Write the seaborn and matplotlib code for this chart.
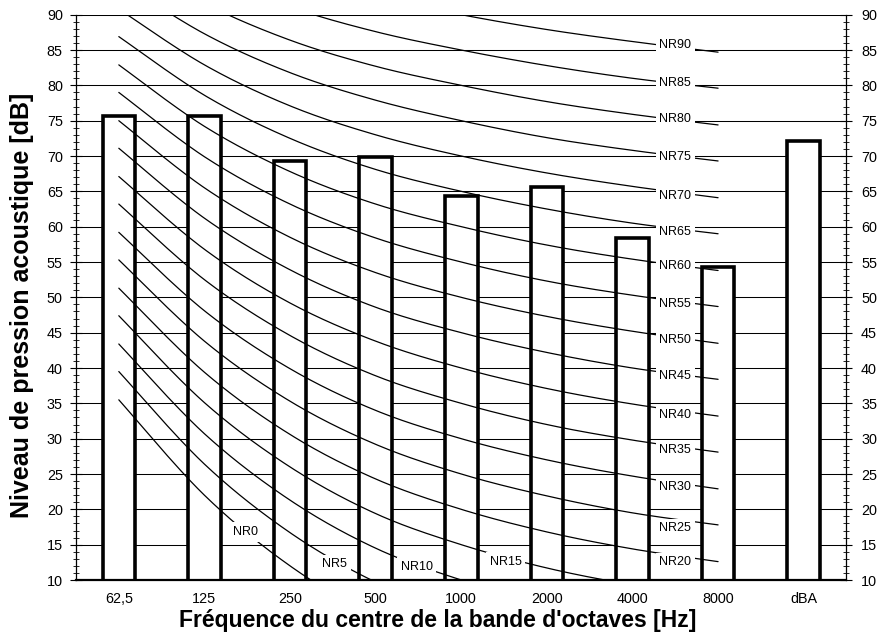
import numpy as np
import pandas as pd
import matplotlib
matplotlib.use("Agg")
import matplotlib.pyplot as plt
import seaborn as sns
from matplotlib.ticker import MultipleLocator

# ---------------- data ----------------
bands = ["62,5", "125", "250", "500", "1000", "2000", "4000", "8000", "dBA"]
levels = [75.6, 75.7, 69.3, 69.8, 64.4, 65.6, 58.4, 54.3, 72.1]

# NR curves at the octave bands 62,5 ... 8000 Hz
nr0 = [35.5, 22.0, 12.0, 4.8, 0.0, -3.5, -6.1, -8.0]
nr5 = [39.5, 26.4, 16.7, 9.7, 5.0, 1.6, -1.0, -2.9]
nr10 = [43.4, 30.7, 21.3, 14.5, 10.0, 6.6, 4.2, 2.3]
nr15 = [47.4, 35.1, 26.0, 19.4, 15.0, 11.7, 9.3, 7.5]
nr20 = [51.3, 39.4, 30.6, 24.3, 20.0, 16.8, 14.4, 12.6]
nr25 = [55.3, 43.8, 35.3, 29.2, 25.0, 21.9, 19.5, 17.8]
nr30 = [59.2, 48.1, 39.9, 34.0, 30.0, 27.0, 24.7, 22.9]
nr35 = [63.2, 52.5, 44.6, 38.9, 35.0, 32.0, 29.8, 28.1]
nr40 = [67.1, 56.8, 49.2, 43.8, 40.0, 37.1, 34.9, 33.2]
nr45 = [71.1, 61.2, 53.9, 48.6, 45.0, 42.2, 40.0, 38.4]
nr50 = [75.0, 65.5, 58.5, 53.5, 50.0, 47.3, 45.2, 43.5]
nr55 = [79.0, 69.9, 63.2, 58.4, 55.0, 52.3, 50.3, 48.7]
nr60 = [82.9, 74.2, 67.8, 63.2, 60.0, 57.4, 55.4, 53.8]
nr65 = [86.9, 78.6, 72.5, 68.1, 65.0, 62.5, 60.5, 59.0]
nr70 = [90.8, 82.9, 77.1, 73.0, 70.0, 67.6, 65.7, 64.1]
nr75 = [94.8, 87.3, 81.8, 77.9, 75.0, 72.6, 70.8, 69.3]
nr80 = [98.7, 91.6, 86.4, 82.7, 80.0, 77.7, 75.9, 74.4]
nr85 = [102.7, 96.0, 91.1, 87.6, 85.0, 82.8, 81.0, 79.6]
nr90 = [106.6, 100.3, 95.7, 92.5, 90.0, 87.9, 86.2, 84.7]

nr_names = ["NR0", "NR5", "NR10", "NR15", "NR20", "NR25", "NR30", "NR35", "NR40",
            "NR45", "NR50", "NR55", "NR60", "NR65", "NR70", "NR75", "NR80", "NR85", "NR90"]
nr_series = [nr0, nr5, nr10, nr15, nr20, nr25, nr30, nr35, nr40, nr45, nr50,
             nr55, nr60, nr65, nr70, nr75, nr80, nr85, nr90]
# label anchor positions (category index, dB)
label_x = [1.48, 2.52, 3.48, 4.52, 6.5, 6.5, 6.5, 6.5, 6.5, 6.5, 6.5, 6.5, 6.5,
           6.5, 6.5, 6.5, 6.5, 6.5, 6.5]
label_y = [16.8, 12.2, 11.9, 12.6, 12.5, 17.3, 23.2, 28.4, 33.3, 38.9, 43.9, 49.1,
           54.4, 59.3, 64.4, 69.9, 75.2, 80.3, 85.7]

yticks = list(range(10, 95, 5))

# ---------------- figure ----------------
sns.set_style("white")
plt.rcParams["font.family"] = ["Liberation Sans", "DejaVu Sans"]
plt.rcParams["text.color"] = "black"
plt.rcParams["axes.labelcolor"] = "black"

W, H = 878, 637
fig = plt.figure(figsize=(W / 100, H / 100), dpi=100)
ax = fig.add_axes([76 / W, 1 - 580 / H, (846.5 - 76) / W, (580 - 14.7) / H])

ax.set_axisbelow(True)
ax.yaxis.grid(True, color="black", linewidth=0.75, zorder=0)
ax.xaxis.grid(False)

df = pd.DataFrame({"band": bands, "level": levels})
sns.barplot(data=df, x="band", y="level", order=bands, color="white",
            saturation=1, edgecolor="black", linewidth=2.6, width=0.38,
            ax=ax, zorder=2)


def smooth(xs, ys, n=40):
    """Excel-like smoothed line through the points (Bezier, 1/6 tangents)."""
    P = np.column_stack([xs, ys]).astype(float)
    out = [P[0]]
    t = np.linspace(0, 1, n)[1:, None]
    for i in range(len(P) - 1):
        p0 = P[i - 1] if i > 0 else P[i]
        p3 = P[i + 2] if i + 2 < len(P) else P[i + 1]
        c1 = P[i] + (P[i + 1] - p0) / 6
        c2 = P[i + 1] - (p3 - P[i]) / 6
        seg = ((1 - t) ** 3) * P[i] + 3 * ((1 - t) ** 2) * t * c1 \
            + 3 * (1 - t) * t ** 2 * c2 + t ** 3 * P[i + 1]
        out.extend(seg)
    out = np.array(out)
    return out[:, 0], out[:, 1]


xpos = np.arange(8)
for name, vals, lx, ly in zip(nr_names, nr_series, label_x, label_y):
    sx, sy = smooth(xpos, vals)
    ax.plot(sx, sy, color="black", linewidth=0.9, zorder=3)
    ax.text(lx, ly, name, ha="center", va="center", fontsize=9, zorder=4,
            color="black",
            bbox=dict(boxstyle="square,pad=0.3", facecolor="white",
                      edgecolor="none"))

ax.set_xlim(-0.5, 8.5)
ax.set_ylim(10, 90)
ax.set_yticks(yticks)
ax.yaxis.set_minor_locator(MultipleLocator(1))
ax.set_xlabel("")
ax.set_ylabel("")

for s in ["top", "right"]:
    ax.spines[s].set_visible(False)
ax.spines["left"].set_color("black")
ax.spines["left"].set_linewidth(0.9)
ax.spines["bottom"].set_color("black")
ax.spines["bottom"].set_linewidth(1.6)
ax.spines["bottom"].set_zorder(5)

ax.tick_params(axis="x", length=0, pad=8.5, labelsize=10.4, colors="black")
ax.tick_params(axis="y", which="major", direction="inout", length=8,
               width=0.8, pad=5.5, labelsize=10.4, colors="black", left=True)
ax.tick_params(axis="y", which="minor", direction="inout", length=5,
               width=0.6, left=True, colors="black")

ax2 = ax.twinx()
ax2.set_ylim(10, 90)
ax2.set_yticks(yticks)
ax2.yaxis.set_minor_locator(MultipleLocator(1))
ax2.grid(False)
for s in ["top", "left", "bottom"]:
    ax2.spines[s].set_visible(False)
ax2.spines["right"].set_color("black")
ax2.spines["right"].set_linewidth(0.9)
ax2.tick_params(axis="y", which="major", direction="inout", length=8,
                width=0.8, pad=6.5, labelsize=10.4, colors="black", right=True)
ax2.tick_params(axis="y", which="minor", direction="inout", length=5,
                width=0.6, right=True, colors="black")

fig.text(437.5 / W, 1 - 627 / H, "Fréquence du centre de la bande d'octaves [Hz]",
         ha="center", va="baseline", fontsize=16.5, fontweight="bold",
         color="black")
fig.text(22 / W, 1 - 305 / H, "Niveau de pression acoustique [dB]",
         ha="center", va="center", rotation=90, fontsize=18, fontweight="bold",
         color="black")

fig.savefig("out.png", dpi=100)
